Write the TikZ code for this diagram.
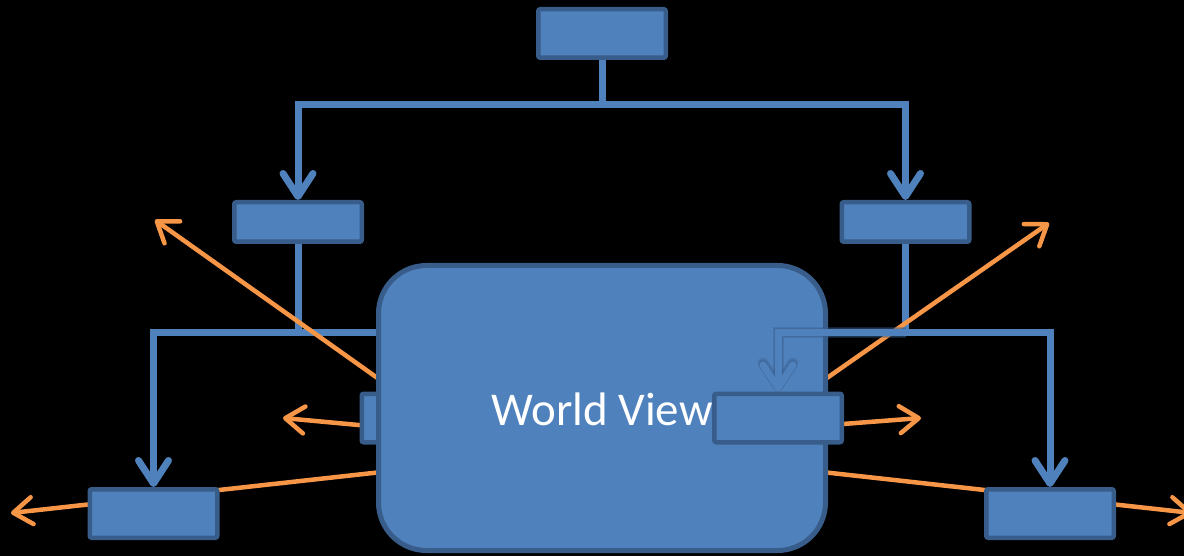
\documentclass[tikz,border=0pt]{standalone}
\usepackage{fontspec}
\setmainfont{Carlito}
\usetikzlibrary{arrows.meta}
\definecolor{boxfill}{HTML}{4F81BD}
\definecolor{boxline}{HTML}{385D8A}
\definecolor{flow}{HTML}{F79646}
\pgfdeclarelayer{canvas}
\pgfdeclarelayer{links}
\pgfdeclarelayer{front}
\pgfdeclarelayer{frontlinks}
\pgfdeclarelayer{topmost}
\pgfsetlayers{canvas,links,main,front,frontlinks,topmost}

\begin{document}
\begin{tikzpicture}[x=1pt,y=-1pt,
  block/.style={draw=boxline, fill=boxfill, line width=4.5pt, rounded corners=2pt,
                minimum width=127.5pt, inner sep=0pt},
  tallbox/.style={block, minimum height=48.5pt},
  flatbox/.style={block, minimum height=39.5pt},
  link/.style={draw=boxfill, line width=7pt},
  linkarrow/.style={link, -{Straight Barb[length=23pt,width=30pt,round]}},
  linkshade/.style={draw=boxline, line width=#1, opacity=0.35,
                    -{Straight Barb[length=23pt,width=30pt,round]}},
  push/.style={draw=flow, line width=4.5pt, line cap=round,
               -{Straight Barb[length=19pt,width=27pt,round]}},
]
% page and background
\begin{pgfonlayer}{canvas}
  \fill[black] (0,0) rectangle (1184,556);
\end{pgfonlayer}
\useasboundingbox (0,0) rectangle (1184,556);

% plain boxes
\node[tallbox] (top) at (602,33.5) {};
\node[flatbox] (l1) at (298,222) {};
\node[flatbox] (r1) at (905.5,222) {};
\node[tallbox] (bl) at (153.5,513.5) {};
\node[tallbox] (br) at (1050,513.5) {};
\node[tallbox] (lm) at (425.5,418) {};

% central shape and its label
\begin{pgfonlayer}{front}
  \node[draw=boxline, fill=boxfill, line width=5pt, rounded corners=48pt,
        minimum width=447pt, minimum height=285pt] (wv) at (602,408) {};
  \node[text=white, font=\fontsize{47}{50}\selectfont, anchor=base, inner sep=0pt]
        (label) at (602,425) {World View};
\end{pgfonlayer}
\begin{pgfonlayer}{topmost}
  \node[tallbox] (rm) at (778,418) {};
\end{pgfonlayer}

% junction points of the tree
\coordinate (split) at (602,105);
\coordinate (ljoin) at (298,332);
\coordinate (rjoin) at (905.5,332);

% orange outflows: sources hidden under the shapes, free tips outside
\coordinate (ulsrc) at (400,394);  \coordinate (ultip) at (155,220);
\coordinate (ursrc) at (804,394);  \coordinate (urtip) at (1049,223);
\coordinate (mlsrc) at (380,427);  \coordinate (mltip) at (283,418);
\coordinate (mrsrc) at (830,425);  \coordinate (mrtip) at (921,418);
\coordinate (blsrc) at (400,470);  \coordinate (bltip) at (11,513);
\coordinate (brsrc) at (804,470);  \coordinate (brtip) at (1192,513);

\begin{pgfonlayer}{links}
  % tree connectors
  \draw[link] (top) -- (split);
  \draw[linkarrow] (split) -| (l1.north);
  \draw[linkarrow] (split) -| (r1.north);
  \draw[link] (l1) -- (ljoin);
  \draw[linkarrow] (ljoin) -| (bl.north);
  \draw[linkarrow] (ljoin) -| (lm.north);
  \draw[link] (r1) -- (rjoin);
  \draw[linkarrow] (rjoin) -| (br.north);
  % outflows
  \draw[push] (ulsrc) -- (ultip);
  \draw[push] (ursrc) -- (urtip);
  \draw[push] (mlsrc) -- (mltip);
  \draw[push] (mrsrc) -- (mrtip);
  \draw[push] (blsrc) -- (bltip);
  \draw[push] (brsrc) -- (brtip);
\end{pgfonlayer}

% connector lying over the central shape, with a soft dark edge
\begin{pgfonlayer}{frontlinks}
  \draw[linkshade=11pt] (rjoin) -| (rm.north);
  \draw[linkshade=9pt] (rjoin) -| (rm.north);
  \draw[linkarrow] (rjoin) -| (rm.north);
\end{pgfonlayer}
\end{tikzpicture}
\end{document}
